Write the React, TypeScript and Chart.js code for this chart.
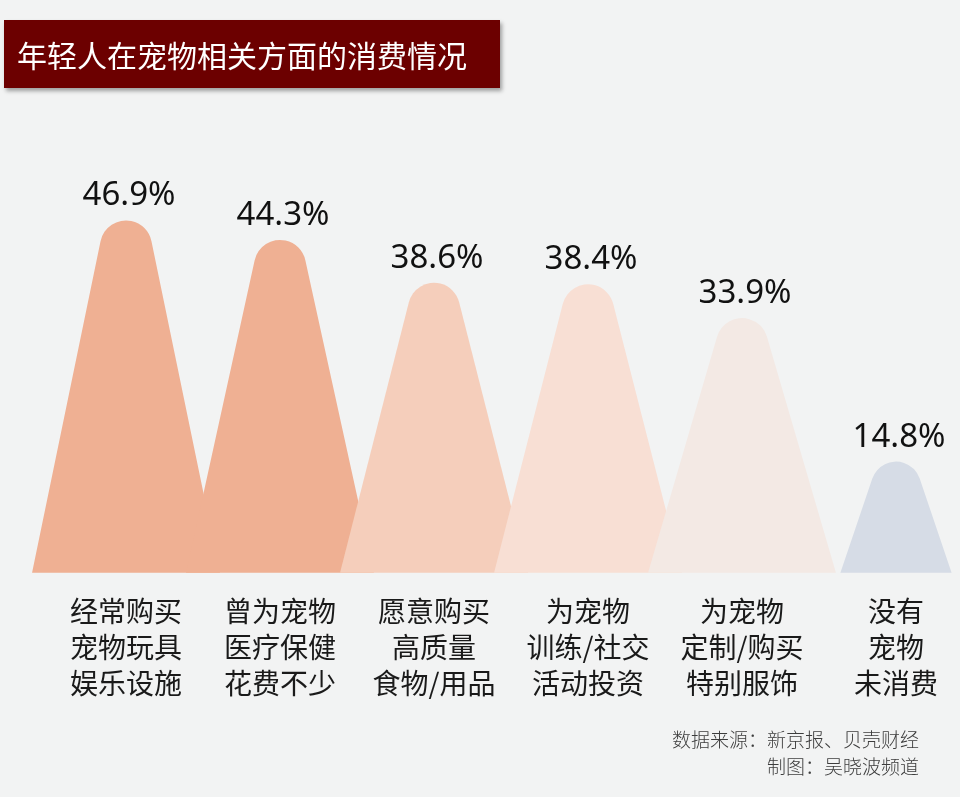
import React, { useEffect, useRef } from "react";
import { Chart, registerables } from "chart.js";

Chart.register(...registerables);

const TITLE = "年轻人在宠物相关方面的消费情况";
const categories: string[][] = [
  ["经常购买", "宠物玩具", "娱乐设施"],
  ["曾为宠物", "医疗保健", "花费不少"],
  ["愿意购买", "高质量", "食物/用品"],
  ["为宠物", "训练/社交", "活动投资"],
  ["为宠物", "定制/购买", "特别服饰"],
  ["没有", "宠物", "未消费"],
];
const values: number[] = [46.9, 44.3, 38.6, 38.4, 33.9, 14.8];
const peakColors: string[] = ["#efb093", "#efb093", "#f5cebb", "#f8dfd4", "#f3e9e4", "#d6dce6"];
const sourceLines: string[] = ["数据来源：新京报、贝壳财经", "制图：吴晓波频道"];

const CJK = "'Noto Sans CJK SC', 'Noto Sans', sans-serif";
const NUM = "'Noto Sans', 'Noto Sans CJK SC', sans-serif";

const mountainPlugin = {
  id: "mountains",
  afterDatasetsDraw(chart: any) {
    const { ctx } = chart;
    const meta = chart.getDatasetMeta(0);
    const yScale = chart.scales.y;
    const xScale = chart.scales.x;
    const base = yScale.getPixelForValue(0);
    const spacing = Math.abs(xScale.getPixelForValue(1) - xScale.getPixelForValue(0));
    ctx.save();
    meta.data.forEach((el: any, i: number) => {
      const cx = el.x;
      const top = el.y;
      const h = base - top;
      const W = Math.min(spacing * 0.61, h * 0.5);
      const r = Math.min(26, W * 0.45);
      const cy = top + r;
      const dxL = -W;
      const dyL = base - cy;
      const D = Math.hypot(dxL, dyL);
      const alpha = Math.acos(r / D);
      const aL = Math.atan2(dyL, dxL) + alpha;
      const aR = Math.PI * 3 - aL;
      ctx.beginPath();
      ctx.moveTo(cx - W, base);
      ctx.arc(cx, cy, r, aL, aR, false);
      ctx.lineTo(cx + W, base);
      ctx.closePath();
      ctx.fillStyle = peakColors[i % peakColors.length];
      ctx.fill();
    });
    ctx.fillStyle = "#111111";
    ctx.font = `33px ${NUM}`;
    ctx.textAlign = "center";
    ctx.textBaseline = "alphabetic";
    meta.data.forEach((el: any, i: number) => {
      ctx.fillText(values[i].toFixed(1) + "%", el.x + 3, el.y - 15);
    });
    ctx.restore();
  },
};

export default function App() {
  const canvasRef = useRef<HTMLCanvasElement | null>(null);

  useEffect(() => {
    if (!canvasRef.current) return;
    const chart = new Chart(canvasRef.current, {
      type: "bar",
      data: {
        labels: categories,
        datasets: [
          {
            data: values,
            backgroundColor: "rgba(0,0,0,0)",
            borderWidth: 0,
          },
        ],
      },
      options: {
        responsive: false,
        animation: false,
        events: [],
        layout: { padding: { left: 126, right: 64, top: 122, bottom: 75 } },
        plugins: {
          legend: { display: false },
          tooltip: { enabled: false },
          title: { display: false },
        },
        scales: {
          x: {
            type: "category",
            offset: false,
            grid: { display: false, drawTicks: false },
            border: { display: false },
            ticks: {
              autoSkip: false,
              maxRotation: 0,
              minRotation: 0,
              padding: 20,
              color: "#1a1a1a",
              font: { family: CJK, size: 28, lineHeight: 1.3 },
            },
          },
          y: {
            display: false,
            min: 0,
            max: 60,
          },
        },
      },
      plugins: [mountainPlugin],
    });
    return () => chart.destroy();
  }, []);

  return (
    <div style={{ position: "fixed", left: 0, top: 0, width: 960, height: 797, background: "#f2f3f3", overflow: "hidden" }}>
      <canvas ref={canvasRef} width={960} height={797} style={{ position: "absolute", left: 0, top: 0 }} />
      <div
        style={{
          position: "absolute",
          left: 4,
          top: 20,
          width: 496,
          height: 68,
          background: "#6c0000",
          boxShadow: "2px 3px 4px rgba(0,0,0,0.35)",
          color: "#ffffff",
          fontFamily: CJK,
          fontSize: 30,
          lineHeight: "68px",
          paddingLeft: 13,
          boxSizing: "border-box",
          whiteSpace: "nowrap",
        }}
      >
        {TITLE}
      </div>
      <div
        style={{
          position: "absolute",
          right: 41,
          top: 725,
          textAlign: "right",
          fontFamily: CJK,
          fontSize: 19,
          lineHeight: "27px",
          color: "#3c3c3c",
          fontWeight: 300,
        }}
      >
        {sourceLines.map((s) => (
          <div key={s}>{s}</div>
        ))}
      </div>
    </div>
  );
}
